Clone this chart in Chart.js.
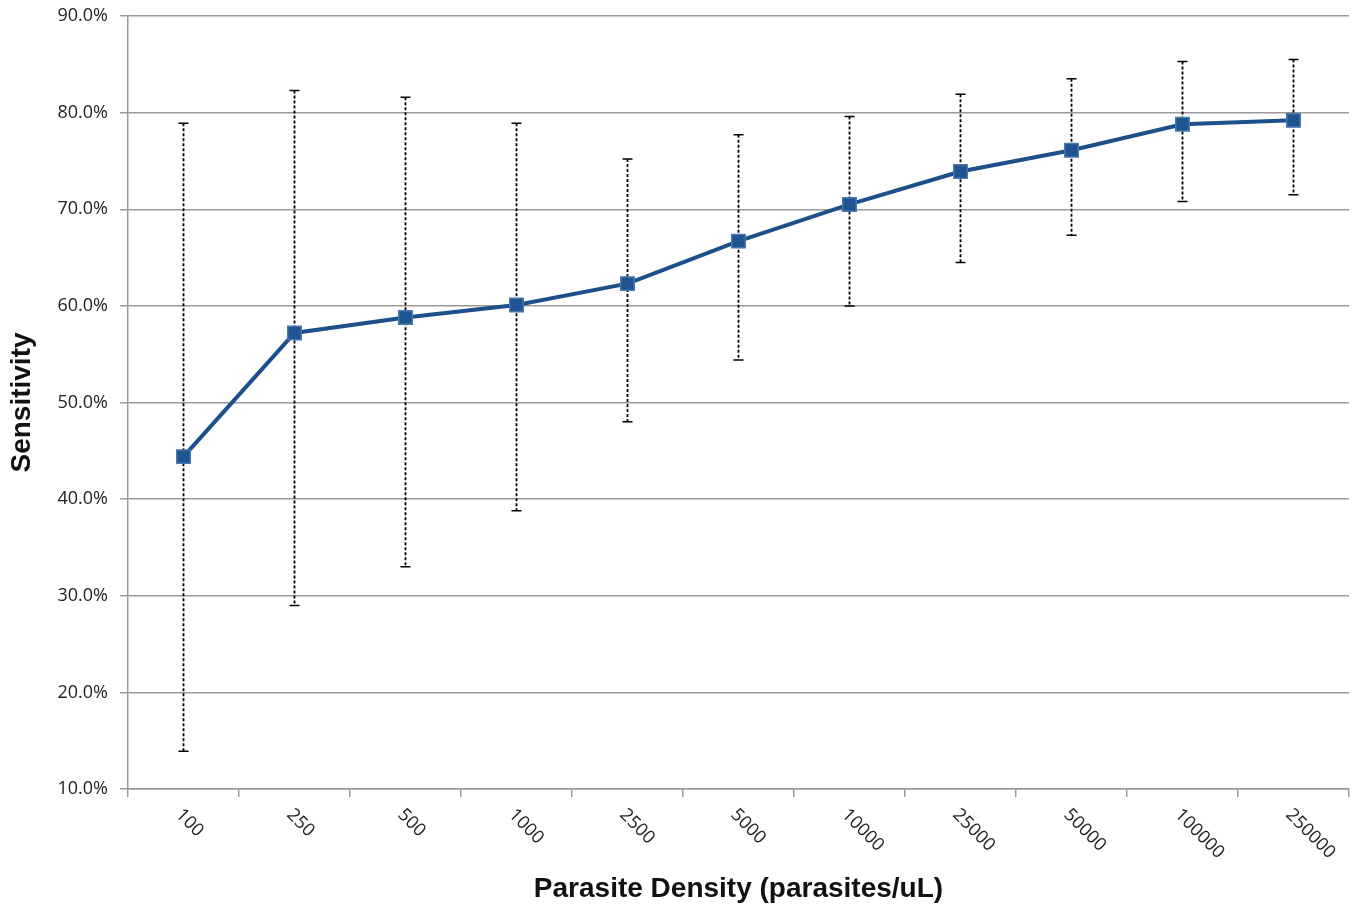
<!DOCTYPE html>
<html>
<head>
<meta charset="utf-8">
<script src="https://cdn.jsdelivr.net/npm/chart.js@4"></script>
<style>
  html, body { margin: 0; padding: 0; background: #fff; }
  canvas { display: block; }
</style>
</head>
<body>
<canvas id="chart" width="1354" height="906"></canvas>
<script>
// Parasite density categories (parasites/uL)
const categories = ['100', '250', '500', '1000', '2500', '5000', '10000', '25000', '50000', '100000', '250000'];
// Sensitivity (%) and 95% CI bounds
const sensitivity = [44.4, 57.2, 58.8, 60.1, 62.3, 66.7, 70.5, 73.9, 76.1, 78.8, 79.2];
const ciLow  = [13.9, 29.0, 33.0, 38.8, 48.0, 54.4, 60.0, 64.5, 67.3, 70.8, 71.5];
const ciHigh = [78.9, 82.3, 81.6, 78.9, 75.2, 77.7, 79.6, 81.9, 83.5, 85.3, 85.5];
const yTicks = [10, 20, 30, 40, 50, 60, 70, 80, 90];

const GRID = '#9a9a9a';
const LINE = '#1d4f8a';

// dashed error bars, drawn under the line
const errorBars = {
  id: 'errorBars',
  beforeDatasetsDraw(chart) {
    const { ctx, scales: { x, y } } = chart;
    ctx.save();
    ctx.strokeStyle = '#000';
    ctx.lineWidth = 1.8;
    categories.forEach((c, i) => {
      const px = x.getPixelForValue(i);
      const top = y.getPixelForValue(ciHigh[i]);
      const bot = y.getPixelForValue(ciLow[i]);
      ctx.setLineDash([3, 2]);
      ctx.beginPath();
      ctx.moveTo(px, top);
      ctx.lineTo(px, bot);
      ctx.stroke();
      ctx.setLineDash([]);
      ctx.lineWidth = 1.5;
      ctx.beginPath();
      ctx.moveTo(px - 5, top); ctx.lineTo(px + 5, top);
      ctx.moveTo(px - 5, bot); ctx.lineTo(px + 5, bot);
      ctx.stroke();
      ctx.lineWidth = 1.8;
    });
    ctx.restore();
  }
};

// x labels rotated down-right, starting at the category
const slantLabels = {
  id: 'slantLabels',
  afterDraw(chart) {
    const { ctx, scales: { x } } = chart;
    ctx.save();
    ctx.font = '18px "Open Sans"';
    ctx.fillStyle = '#222';
    ctx.textAlign = 'left';
    ctx.textBaseline = 'middle';
    categories.forEach((c, i) => {
      const px = x.getPixelForValue(i);
      ctx.save();
      ctx.translate(px - 5, x.top + 23);
      ctx.rotate(Math.PI / 4);
      ctx.fillText(c, 0, 0);
      ctx.restore();
    });
    ctx.restore();
  }
};

new Chart(document.getElementById('chart'), {
  type: 'line',
  data: {
    labels: categories,
    datasets: [{
      label: 'Sensitivity',
      data: sensitivity,
      borderColor: LINE,
      borderWidth: 4,
      pointStyle: 'rect',
      pointRadius: 9.5,
      pointBackgroundColor: '#1f5391',
      pointBorderColor: '#4776b0',
      pointBorderWidth: 1.5,
      tension: 0,
      clip: false,
    }],
  },
  options: {
    responsive: false,
    animation: false,
    layout: { autoPadding: false, padding: { top: 16, right: 5, left: 0, bottom: 0 } },
    plugins: { legend: { display: false }, tooltip: { enabled: false } },
    scales: {
      x: {
        offset: true,
        grid: { offset: true, drawOnChartArea: false, drawTicks: true, tickLength: 8, color: GRID, lineWidth: 1.5 },
        border: { color: GRID, width: 1.5 },
        ticks: { display: false },
        title: {
          display: true,
          text: 'Parasite Density (parasites/uL)',
          font: { family: '"Liberation Sans", Arial, sans-serif', size: 28, weight: 'bold' },
          color: '#111',
          padding: { top: 0, bottom: 0 },
        },
        afterFit(scale) {
          scale.height = 117;
          scale.paddingLeft = 0;
          scale.paddingRight = 0;
        },
      },
      y: {
        min: 10,
        max: 90,
        afterBuildTicks(scale) { scale.ticks = yTicks.map(v => ({ value: v })); },
        grid: { color: GRID, lineWidth: 1.5, tickLength: 8 },
        border: { color: GRID, width: 1.5 },
        ticks: {
          padding: 12,
          color: '#222',
          font: { family: '"Open Sans", sans-serif', size: 18 },
          callback: v => v.toFixed(1) + '%',
        },
        title: {
          display: true,
          text: 'Sensitivity',
          font: { family: '"Liberation Sans", Arial, sans-serif', size: 28, weight: 'bold' },
          color: '#111',
          padding: { top: 5, bottom: 0 },
        },
        afterFit(scale) {
          scale.width = 128;
          scale.paddingTop = 0;
          scale.paddingBottom = 0;
        },
      },
    },
  },
  plugins: [errorBars, slantLabels],
});
</script>
</body>
</html>
